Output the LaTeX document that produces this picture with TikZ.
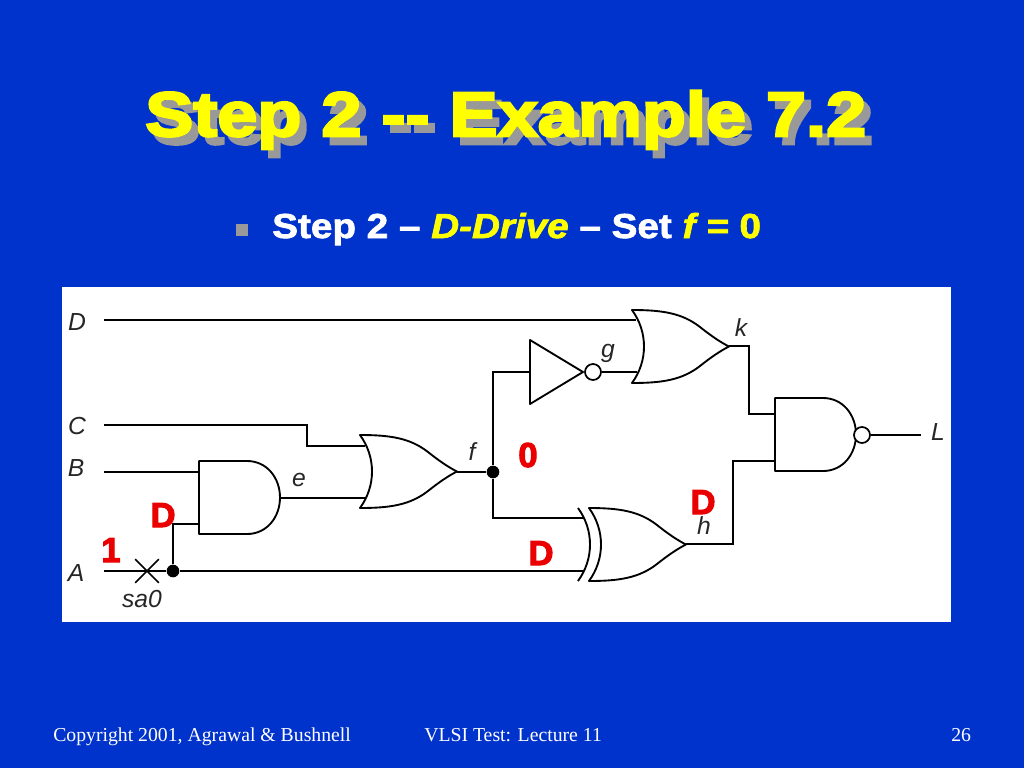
\documentclass[tikz,border=0pt]{standalone}
\usepackage{fontspec}
\usepackage{tikz}
\usetikzlibrary{shapes.misc}
\setmainfont{Liberation Serif}
\newfontfamily\titlefont{Liberation Sans Bold}[FakeBold=4,FakeStretch=1.15]
\newfontfamily\heavyfont{Liberation Sans Bold}[FakeBold=3]
\newfontfamily\heavyit{Liberation Sans Bold Italic}[FakeBold=2,FakeStretch=1.115]
\newfontfamily\boldfont{Liberation Sans Bold}[FakeBold=2,FakeStretch=1.115]
\newfontfamily\signalfont{Liberation Sans Italic}
\definecolor{slideblue}{RGB}{0,51,204}
\definecolor{shadowgray}{RGB}{153,153,153}
\definecolor{markred}{RGB}{234,0,0}
\definecolor{titleyellow}{RGB}{255,255,0}
\tikzset{
  wire/.style={line width=1.4pt, black},
  gate/.style={line width=1.4pt, black, line join=round},
  dot/.style={circle, fill=black, inner sep=0pt, minimum size=9.5pt},
  bubble/.style={circle, draw=black, fill=white, line width=1.3pt, inner sep=0pt, minimum size=12pt},
  signal/.style={font=\signalfont\fontsize{18.5}{20}\selectfont, inner sep=0pt, anchor=base, text=black!85},
  faultval/.style={font=\heavyfont\fontsize{26}{28}\selectfont, inner sep=0pt, anchor=base, text=markred},
  foot/.style={font=\fontsize{14.8}{17}\selectfont, inner sep=0pt, anchor=base west, text=white},
  heading/.style={font=\titlefont\fontsize{47}{52}\selectfont, inner sep=0pt, anchor=base west},
  orgate/.pic={
    \draw[gate] (0,0) .. controls (30,0) and (50,3) .. (68,17)
      .. controls (78,25) and (88,32) .. (97,36.5)
      .. controls (88,41) and (78,48) .. (68,56)
      .. controls (50,70) and (30,73) .. (0,73)
      .. controls (16,51) and (16,22) .. (0,0) -- cycle;
  },
  andgate/.pic={
    \draw[gate] (0,0) -- (48,0) .. controls (68,0) and (81,17) .. (81,36.5)
      .. controls (81,56) and (68,73) .. (48,73) -- (0,73) -- cycle;
  }
}
\begin{document}
\begin{tikzpicture}[x=0.75pt,y=-0.75pt]

%% slide
\fill[slideblue] (0,0) rectangle (1024,768);
\useasboundingbox (0,0) rectangle (1024,768);
\fill[white] (62,287) rectangle (951,622);

%% heading
\node[heading, text=shadowgray] (titleback) at (152,144) {Step 2 {-}{-} Example 7.2};
\node[heading, text=titleyellow] (titlefront) at (145,136) {Step 2 {-}{-} Example 7.2};
\fill[shadowgray] (236,224) rectangle (248,236);
\node[font=\boldfont\fontsize{26}{29}\selectfont, text=white, inner sep=0pt, anchor=base west] (stepline) at (272,238)
  {Step 2 – {\color{titleyellow}\heavyit D-Drive} – Set {\color{titleyellow}\heavyit f =} {\color{titleyellow}0}};

%% pins
\coordinate (Dpin) at (104,320);
\coordinate (Cpin) at (104,425);
\coordinate (Bpin) at (104,472);
\coordinate (Apin) at (104,571);
\coordinate (Cbend) at (307,446);
\coordinate (eina) at (199,472);
\coordinate (einb) at (199,524);
\coordinate (eout) at (280,498);
\coordinate (fina) at (365,446);
\coordinate (finb) at (365,498);
\coordinate (fout) at (457,472);
\coordinate (gin) at (530,372);
\coordinate (kina) at (636,320);
\coordinate (kinb) at (637,372);
\coordinate (kout) at (729,346);
\coordinate (kbend) at (749,414);
\coordinate (hina) at (583,518);
\coordinate (hinb) at (583,571);
\coordinate (hout) at (686,544);
\coordinate (hbend) at (733,461);
\coordinate (Lina) at (775,414);
\coordinate (Linb) at (775,461);
\coordinate (Lend) at (921,435);

%% gates
\pic at (199,461) {andgate};
\pic at (360,435) {orgate};
\pic at (632,310) {orgate};
\pic at (589,508) {orgate};
\pic at (775,398) {andgate};
\draw[gate] (578,508) .. controls (594,530) and (594,559) .. (578,581);
\draw[gate] (530,340) -- (583,372) -- (530,404) -- cycle;

%% dots and bubbles
\node[dot] (dotA) at (173,571) {};
\node[dot] (dotf) at (493,472) {};
\node[bubble] (bubg) at (593,372) {};
\node[bubble] (bubL) at (862,435) {};
\node[draw=black, cross out, line width=1.3pt, inner sep=0pt, minimum size=16.5pt] (faultmark) at (147,571) {};

%% edges
\draw[wire] (Dpin) -- (kina);
\draw[wire] (Cpin) -| (Cbend) -- (fina);
\draw[wire] (Bpin) -- (eina);
\draw[wire] (Apin) -- (dotA) -- (hinb);
\draw[wire] (dotA) |- (einb);
\draw[wire] (eout) -- (finb);
\draw[wire] (fout) -- (dotf);
\draw[wire] (gin) -| (dotf) |- (hina);
\draw[wire] (bubg) -- (kinb);
\draw[wire] (kout) -| (kbend) -- (Lina);
\draw[wire] (hout) -| (hbend) -- (Linb);
\draw[wire] (bubL) -- (Lend);

%% signal names
\node[signal] (Dname) at (77,330) {D};
\node[signal] (Cname) at (77,434) {C};
\node[signal] (Bname) at (76,476) {B};
\node[signal] (Aname) at (76,581) {A};
\node[signal] (faultname) at (142,607) {sa0};
\node[signal] (ename) at (299,486) {e};
\node[signal] (fname) at (472,460) {f};
\node[signal] (gname) at (608,357) {g};
\node[signal] (kname) at (741,336) {k};
\node[signal] (hname) at (704,534) {h};
\node[signal] (Lname) at (938,440) {L};

%% fault values
\node[faultval] (valA) at (163,527) {D};
\node[faultval] (valstem) at (111,562) {1};
\node[faultval] (valf) at (528,467) {0};
\node[faultval] (valh) at (703,514) {D};
\node[faultval] (valxor) at (541,565) {D};

%% footer
\node[foot] (footleft) at (53,741) {Copyright 2001, Agrawal \& Bushnell};
\node[foot] (footmid) at (424,741) {VLSI Test: Lecture 11};
\node[foot] (footnum) at (951,741) {26};

\end{tikzpicture}
\end{document}
